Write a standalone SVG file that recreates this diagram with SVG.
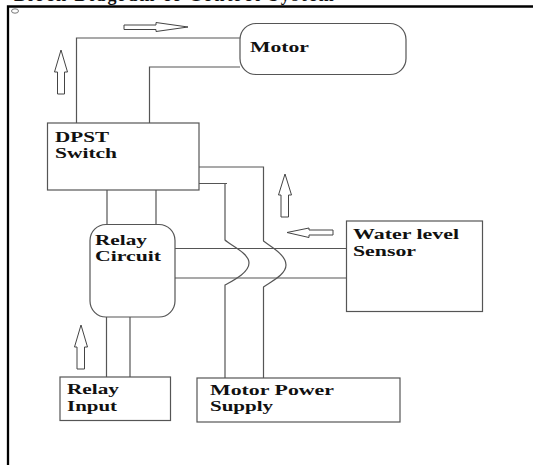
<svg xmlns="http://www.w3.org/2000/svg" width="533" height="465" viewBox="0 0 533 465">
<defs><style>
.b{fill:#fff;stroke:#555;stroke-width:1.2}
.l{fill:none;stroke:#555;stroke-width:1.2}
.a{fill:#fff;stroke:#444;stroke-width:1}
.t{font-family:"Liberation Serif",serif;font-weight:bold;font-size:15.5px;fill:#111}
</style></defs>
<rect width="533" height="465" fill="#fff"/>
<text x="14" y="0.700" class="t" style="font-size:18px;letter-spacing:2px">Block Diagram of Control System</text>
<path d="M8 465V6.500H533" fill="none" stroke="#000" stroke-width="2.300"/>
<ellipse cx="15" cy="11" rx="3.500" ry="2.200" fill="#fff" stroke="#555" stroke-width=".8"/>
<g id="connectors">
<path class="l" d="M76.500 123V38H240M149.500 123V67H240"/>
<path class="l" d="M107 190V224M156 190V224M106.500 317V377M130 317V377"/>
<path class="l" d="M175 248.500H346M175 278H346"/>
<path class="l" d="M199 167H263.500V241C268 245 286 254 286 265C286 275 270 282 263.500 287V378"/>
<path class="l" d="M197 183.500H227M225 183.500V240C230 245 249 253 249 263C249 273 232 281 225 285V378"/>
</g>
<g id="arrows">
<path class="a" d="M124 25H156V22.500L188 27L156 31.500V29.500H124Z"/>
<path class="a" d="M57.500 94V72H54.500L61 50L67.500 72H64.500V94Z"/>
<path class="a" d="M77 369V347H74.500L81 325L87.500 347H84.500V369Z"/>
<path class="a" d="M281 217V195H278.500L285 174L291.500 195H288.500V217Z"/>
<path class="a" d="M333 230V235H309V237.500L287 232.500L309 228V230Z"/>
</g>
<g id="motor"><rect class="b" x="240" y="23.500" width="166" height="51" rx="16"/><text class="t" x="250" y="52" textLength="59" lengthAdjust="spacingAndGlyphs">Motor</text></g>
<g id="dpst"><rect class="b" x="47.500" y="123" width="151.500" height="67"/><text class="t" x="55" y="142" textLength="54" lengthAdjust="spacingAndGlyphs">DPST</text><text class="t" x="55" y="158" textLength="62" lengthAdjust="spacingAndGlyphs">Switch</text></g>
<g id="relay-circuit"><rect class="b" x="90" y="224.500" width="85" height="92.500" rx="16"/><text class="t" x="95" y="245" textLength="52" lengthAdjust="spacingAndGlyphs">Relay</text><text class="t" x="95" y="261" textLength="66" lengthAdjust="spacingAndGlyphs">Circuit</text></g>
<g id="sensor"><rect class="b" x="346.500" y="221" width="136" height="90.500"/><text class="t" x="353" y="239" textLength="106" lengthAdjust="spacingAndGlyphs">Water level</text><text class="t" x="353" y="256" textLength="63" lengthAdjust="spacingAndGlyphs">Sensor</text></g>
<g id="relay-input"><rect class="b" x="60" y="377" width="110.500" height="43.500"/><text class="t" x="67" y="394" textLength="52" lengthAdjust="spacingAndGlyphs">Relay</text><text class="t" x="67" y="411" textLength="50" lengthAdjust="spacingAndGlyphs">Input</text></g>
<g id="power"><rect class="b" x="197" y="378" width="203" height="44"/><text class="t" x="210" y="395" textLength="124" lengthAdjust="spacingAndGlyphs">Motor Power</text><text class="t" x="210" y="411" textLength="63" lengthAdjust="spacingAndGlyphs">Supply</text></g>
</svg>
